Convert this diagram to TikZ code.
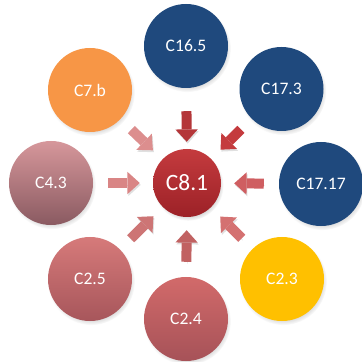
\documentclass[tikz,border=0pt]{standalone}
\usepackage{fontspec}
\setmainfont{Carlito}
\usetikzlibrary{arrows.meta,shadows}

\definecolor{deepblue}{HTML}{1F497D}
\definecolor{peach}{HTML}{F79646}
\definecolor{amber}{HTML}{FFC000}
\definecolor{coreTop}{HTML}{C43B3E}
\definecolor{coreBot}{HTML}{9C2127}
\definecolor{mauveTop}{HTML}{D6979B}
\definecolor{mauveMid}{HTML}{C09EA3}
\definecolor{mauveBot}{HTML}{8A5A61}
\definecolor{roseTop}{HTML}{D67A7A}
\definecolor{roseBot}{HTML}{A7565B}
\definecolor{redTop}{HTML}{D26A6A}
\definecolor{redBot}{HTML}{A65258}

\tikzset{
  bubble/.style={circle, minimum size=2.52cm, inner sep=0pt, text=white,
    font=\fontsize{15}{18}\selectfont,
    circular drop shadow={shadow xshift=1pt, shadow yshift=-2pt, shadow scale=1.04, opacity=0.35}},
  push/.style={line width=0.3cm, -{Triangle[width=0.67cm,length=0.37cm,line width=0pt]},
    shorten <=0.45cm, shorten >=0.39cm,
    preaction={draw=black, opacity=0.12, transform canvas={shift={(0.8pt,-1.6pt)}}}},
}

\begin{document}
\begin{tikzpicture}[x=0.03cm, y=0.03cm]

\useasboundingbox (0,0) rectangle (362,362);

% centre
\node[bubble, minimum size=2.04cm, top color=coreTop, bottom color=coreBot,
  font=\fontsize{20}{24}\selectfont] (c81) at (187,179) {C8.1};

% couronne
\node[bubble, fill=deepblue] (c165) at (186,316) {C16.5};
\node[bubble, fill=deepblue] (c173) at (281.5,273) {C17.3};
\node[bubble, fill=deepblue] (c1717) at (321,178) {C17.17};
\node[bubble, fill=amber] (c23) at (282,83) {C2.3};
\node[bubble, top color=redTop, bottom color=redBot] (c24) at (186,43) {C2.4};
\node[bubble, top color=roseTop, bottom color=roseBot] (c25) at (90,83) {C2.5};
\node[bubble, top color=mauveTop, middle color=mauveMid, bottom color=mauveBot] (c43) at (51,179) {C4.3};
\node[bubble, fill=peach] (c7b) at (90,272) {C7.b};

% fleches
\draw[push, color=coreTop!92!black, shorten <=0.69cm, shorten >=0.21cm] (c165) -- (c81);
\draw[push, color=coreTop] (c173) -- (c81);
\draw[push, color=coreTop!82!white] (c1717) -- (c81);
\draw[push, color=redTop!95!white] (c23) -- (c81);
\draw[push, color=redTop!92!black] (c24) -- (c81);
\draw[push, color=roseTop!96!black] (c25) -- (c81);
\draw[push, color=roseTop!92!white] (c43) -- (c81);
\draw[push, color=roseTop!85!white] (c7b) -- (c81);

\end{tikzpicture}
\end{document}
